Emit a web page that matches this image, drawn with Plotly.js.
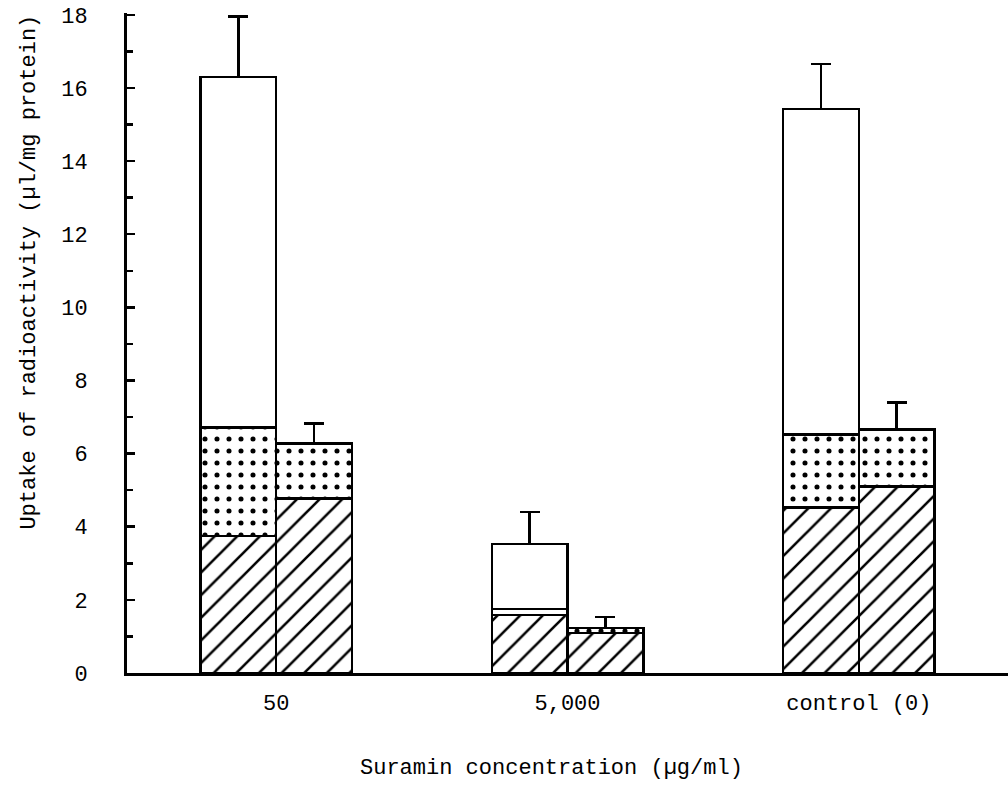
<!DOCTYPE html>
<html>
<head>
<meta charset="utf-8">
<script src="https://cdn.plot.ly/plotly-3.0.1.min.js"></script>
<style>html,body{margin:0;padding:0;background:#fff;}#chart{width:1008px;height:810px;}</style>
</head>
<body>
<div id="chart"></div>
<script>
// Categories (Suramin concentration)
const categories = ["50", "5,000", "control (0)"];

// Left bar of each pair: hatched / dotted / open segment heights
const leftHatched = [3.75, 1.59, 4.52];
const leftDotted  = [2.96, 0.16, 2.00];
const leftOpen    = [9.59, 1.78, 8.90];
const leftDottedErr = [1.02, 0.72, 0.50];
const leftOpenErr   = [1.65, 0.88, 1.24];

// Right bar of each pair: hatched / dotted segment heights
const rightHatched = [4.77, 1.10, 5.10];
const rightDotted  = [1.50, 0.13, 1.56];
const rightDottedErr = [0.55, 0.30, 0.74];

const yTickVals = [0, 2, 4, 6, 8, 10, 12, 14, 16, 18];

const xTitle = "Suramin concentration (µg/ml)";
const yTitle = "Uptake of radioactivity (µl/mg protein)";

const barW = 0.26;
const idx = categories.map((c, i) => i);
const xLeft = idx.map(i => i - barW / 2);
const xRight = idx.map(i => i + barW / 2);
const zeros = categories.map(() => 0);

const outline = {color: "#000", width: 2.5};
const hatchPattern = {shape: "/", fgcolor: "#000", bgcolor: "#fff", size: 16, solidity: 0.16};
const dotPattern = {shape: ".", fgcolor: "#000", bgcolor: "#fff", size: 12, solidity: 0.14};
function errUp(arr) {
  return {type: "data", symmetric: false, array: arr, arrayminus: zeros,
          color: "#000", thickness: 2.5, width: 10};
}

const traces = [
  {type: "bar", x: xLeft, y: leftHatched, width: barW,
   marker: {color: "#fff", line: outline, pattern: hatchPattern}},
  {type: "bar", x: xLeft, y: leftDotted, width: barW,
   marker: {color: "#fff", line: outline, pattern: dotPattern}, error_y: errUp(leftDottedErr)},
  {type: "bar", x: xLeft, y: leftOpen, width: barW,
   marker: {color: "#fff", line: outline}, error_y: errUp(leftOpenErr)},
  {type: "bar", x: xRight, y: rightHatched, width: barW,
   marker: {color: "#fff", line: outline, pattern: hatchPattern}},
  {type: "bar", x: xRight, y: rightDotted, width: barW,
   marker: {color: "#fff", line: outline, pattern: dotPattern}, error_y: errUp(rightDottedErr)}
];

const font = {family: "Liberation Mono, Courier New, monospace", size: 22, color: "#000"};

const layout = {
  width: 1008, height: 810,
  paper_bgcolor: "#fff", plot_bgcolor: "#fff",
  barmode: "stack",
  showlegend: false,
  font: font,
  margin: {l: 127, r: 0, t: 13, b: 137},
  xaxis: {
    range: [-0.512, 2.512],
    tickvals: idx, ticktext: categories,
    showline: true, linecolor: "#000", linewidth: 3,
    showgrid: false, zeroline: false, ticks: "",
    ticklabelstandoff: 8,
    tickfont: font
  },
  yaxis: {
    range: [0, 18.05],
    tickvals: yTickVals,
    showline: true, linecolor: "#000", linewidth: 3,
    showgrid: false, zeroline: false,
    ticks: "inside", ticklen: 8, tickwidth: 2.5, tickcolor: "#000",
    minor: {dtick: 1, ticks: "inside", ticklen: 6, tickwidth: 2.5, tickcolor: "#000", showgrid: false},
    ticklabelstandoff: 32,
    tickfont: font
  },
  annotations: [
    {text: xTitle, xref: "paper", yref: "paper", x: 0.482, y: -0.145,
     xanchor: "center", yanchor: "middle", showarrow: false, font: font},
    {text: yTitle, xref: "paper", yref: "paper", x: -0.111, y: 0.607,
     xanchor: "center", yanchor: "middle", textangle: -90, showarrow: false, font: font}
  ]
};

Plotly.newPlot("chart", traces, layout, {displayModeBar: false, staticPlot: true});
</script>
</body>
</html>
